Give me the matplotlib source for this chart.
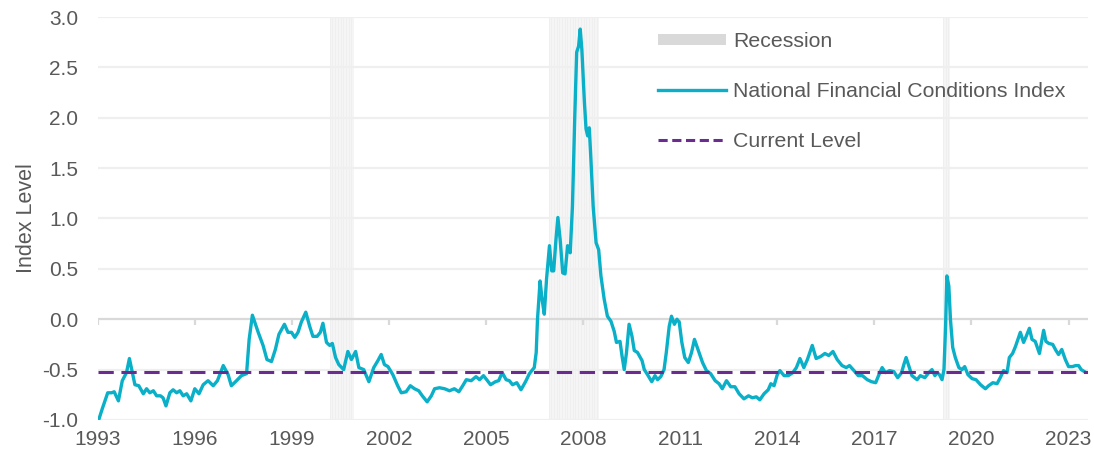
import matplotlib
matplotlib.use("Agg")
import matplotlib.pyplot as plt
import numpy as np
from matplotlib.patches import Patch
from matplotlib.lines import Line2D

# NFCI readings (decimal year, index level)
years = [1993.02, 1993.14, 1993.31, 1993.43, 1993.51, 1993.64, 1993.76, 1993.89, 1993.98, 1994.07,
         1994.15, 1994.27, 1994.41, 1994.51, 1994.61, 1994.72, 1994.82, 1994.94, 1995.02, 1995.11,
         1995.23, 1995.33, 1995.44, 1995.54, 1995.64, 1995.75, 1995.88, 1996.00, 1996.13, 1996.26,
         1996.41, 1996.57, 1996.70, 1996.88, 1997.03, 1997.13, 1997.29, 1997.44, 1997.60, 1997.68,
         1997.78, 1997.96, 1998.11, 1998.23, 1998.37, 1998.49, 1998.60, 1998.77, 1998.88, 1998.99,
         1999.09, 1999.19, 1999.29, 1999.43, 1999.55, 1999.65, 1999.78, 1999.88, 1999.96, 2000.07,
         2000.17, 2000.25, 2000.35, 2000.45, 2000.60, 2000.73, 2000.84, 2000.97, 2001.07, 2001.22,
         2001.38, 2001.53, 2001.66, 2001.76, 2001.86, 2001.97, 2002.12, 2002.27, 2002.38, 2002.53,
         2002.66, 2002.79, 2002.92, 2003.03, 2003.18, 2003.31, 2003.41, 2003.56, 2003.72, 2003.87,
         2004.02, 2004.16, 2004.28, 2004.39, 2004.54, 2004.69, 2004.80, 2004.92, 2005.02, 2005.14,
         2005.29, 2005.39, 2005.50, 2005.62, 2005.72, 2005.82, 2005.95, 2006.08, 2006.22, 2006.34,
         2006.49, 2006.55, 2006.59, 2006.67, 2006.73, 2006.80, 2006.87, 2006.96, 2007.03, 2007.09,
         2007.16, 2007.22, 2007.29, 2007.37, 2007.44, 2007.52, 2007.60, 2007.67, 2007.74, 2007.80,
         2007.86, 2007.91, 2007.96, 2008.04, 2008.09, 2008.14, 2008.19, 2008.24, 2008.31, 2008.40,
         2008.48, 2008.55, 2008.65, 2008.75, 2008.86, 2008.96, 2009.03, 2009.14, 2009.20, 2009.27,
         2009.34, 2009.42, 2009.51, 2009.58, 2009.68, 2009.82, 2009.89, 2009.99, 2010.12, 2010.22,
         2010.30, 2010.40, 2010.50, 2010.57, 2010.66, 2010.73, 2010.82, 2010.90, 2010.97, 2011.05,
         2011.14, 2011.25, 2011.35, 2011.44, 2011.56, 2011.69, 2011.81, 2011.94, 2012.08, 2012.20,
         2012.30, 2012.43, 2012.56, 2012.69, 2012.82, 2012.97, 2013.11, 2013.23, 2013.35, 2013.46,
         2013.59, 2013.72, 2013.80, 2013.90, 2014.00, 2014.08, 2014.21, 2014.34, 2014.48, 2014.59,
         2014.70, 2014.82, 2014.93, 2015.08, 2015.20, 2015.34, 2015.47, 2015.59, 2015.72, 2015.85,
         2016.00, 2016.13, 2016.23, 2016.37, 2016.50, 2016.63, 2016.78, 2016.91, 2017.04, 2017.14,
         2017.24, 2017.34, 2017.47, 2017.60, 2017.72, 2017.84, 2017.91, 2017.98, 2018.06, 2018.16,
         2018.32, 2018.42, 2018.56, 2018.68, 2018.78, 2018.87, 2018.94, 2019.01, 2019.09, 2019.15,
         2019.20, 2019.24, 2019.30, 2019.35, 2019.42, 2019.50, 2019.61, 2019.71, 2019.79, 2019.89,
         2020.02, 2020.14, 2020.28, 2020.43, 2020.53, 2020.66, 2020.79, 2020.89, 2020.99, 2021.10,
         2021.17, 2021.27, 2021.36, 2021.51, 2021.61, 2021.69, 2021.79, 2021.87, 2021.97, 2022.10,
         2022.18, 2022.23, 2022.30, 2022.39, 2022.51, 2022.61, 2022.69, 2022.79, 2022.90, 2023.00,
         2023.12, 2023.22, 2023.31, 2023.39, 2023.49]
nfci = [-1.01, -0.89, -0.73, -0.73, -0.72, -0.81, -0.61, -0.53, -0.39, -0.53,
        -0.65, -0.66, -0.74, -0.69, -0.73, -0.71, -0.76, -0.76, -0.78, -0.86,
        -0.73, -0.70, -0.73, -0.71, -0.76, -0.74, -0.81, -0.69, -0.74, -0.65,
        -0.61, -0.66, -0.61, -0.46, -0.55, -0.66, -0.61, -0.56, -0.54, -0.20,
        0.04, -0.13, -0.26, -0.40, -0.42, -0.30, -0.15, -0.05, -0.13, -0.13,
        -0.18, -0.13, -0.03, 0.07, -0.07, -0.17, -0.17, -0.13, -0.04, -0.23,
        -0.26, -0.24, -0.38, -0.45, -0.50, -0.32, -0.40, -0.32, -0.48, -0.50,
        -0.62, -0.48, -0.41, -0.35, -0.45, -0.47, -0.55, -0.66, -0.73, -0.72,
        -0.66, -0.69, -0.71, -0.76, -0.82, -0.76, -0.69, -0.68, -0.69, -0.71,
        -0.69, -0.72, -0.66, -0.60, -0.61, -0.57, -0.60, -0.56, -0.60, -0.65,
        -0.62, -0.61, -0.53, -0.60, -0.61, -0.65, -0.63, -0.70, -0.62, -0.54,
        -0.48, -0.33, 0.00, 0.38, 0.20, 0.05, 0.40, 0.73, 0.48, 0.48,
        0.79, 1.01, 0.79, 0.46, 0.45, 0.73, 0.66, 1.12, 1.99, 2.65,
        2.71, 2.88, 2.68, 2.15, 1.89, 1.82, 1.90, 1.59, 1.12, 0.76,
        0.69, 0.43, 0.20, 0.03, -0.02, -0.12, -0.23, -0.22, -0.36, -0.50,
        -0.33, -0.05, -0.17, -0.31, -0.33, -0.41, -0.50, -0.55, -0.62, -0.56,
        -0.60, -0.57, -0.50, -0.33, -0.07, 0.03, -0.05, 0.00, -0.03, -0.23,
        -0.38, -0.43, -0.33, -0.20, -0.31, -0.43, -0.51, -0.54, -0.61, -0.64,
        -0.69, -0.61, -0.67, -0.67, -0.74, -0.79, -0.76, -0.78, -0.77, -0.80,
        -0.74, -0.70, -0.64, -0.66, -0.55, -0.51, -0.56, -0.56, -0.53, -0.48,
        -0.39, -0.48, -0.40, -0.26, -0.39, -0.37, -0.34, -0.36, -0.32, -0.40,
        -0.46, -0.48, -0.46, -0.51, -0.56, -0.56, -0.60, -0.62, -0.63, -0.55,
        -0.48, -0.53, -0.51, -0.52, -0.58, -0.53, -0.45, -0.38, -0.46, -0.56,
        -0.60, -0.56, -0.58, -0.53, -0.50, -0.56, -0.53, -0.55, -0.60, -0.50,
        -0.07, 0.43, 0.33, 0.00, -0.28, -0.38, -0.48, -0.50, -0.47, -0.55,
        -0.59, -0.60, -0.65, -0.69, -0.66, -0.63, -0.64, -0.58, -0.51, -0.53,
        -0.38, -0.34, -0.27, -0.13, -0.23, -0.17, -0.09, -0.20, -0.22, -0.34,
        -0.20, -0.11, -0.22, -0.24, -0.25, -0.31, -0.35, -0.30, -0.40, -0.47,
        -0.47, -0.46, -0.46, -0.50, -0.52]

current_level = -0.52

# recession bands as shown on the chart
rec_start = [2000.17, 2006.93, 2019.12]
rec_end = [2000.91, 2008.50, 2019.33]

xtick_years = [1993, 1996, 1999, 2002, 2005, 2008, 2011, 2014, 2017, 2020, 2023]
ytick_vals = [-1.0, -0.5, 0.0, 0.5, 1.0, 1.5, 2.0, 2.5, 3.0]

plt.rcParams['font.family'] = ['Liberation Sans', 'DejaVu Sans']
plt.rcParams['axes.unicode_minus'] = False

text_col = '#595959'
line_col = '#0AAFC8'
dash_col = '#6A2C8E'

fig = plt.figure(figsize=(10.94, 4.57), dpi=100)
ax = fig.add_axes([0.0893, 0.081, 0.9052, 0.8818])

# recessions: pale band made of monthly strips
for s, e in zip(rec_start, rec_end):
    ax.axvspan(s, e, color='#f5f5f5', lw=0, zorder=0)
    ax.vlines(np.arange(s, e, 1 / 12), -1.0, 3.0, color='#ededed', lw=0.5, zorder=0)

# gridlines
for v in ytick_vals:
    if v == 0:
        ax.axhline(v, color='#d9d9d9', lw=1.6, zorder=1)
    else:
        ax.axhline(v, color='#efefef', lw=1.6, zorder=1)
# little ticks hanging off the zero line
ax.vlines(xtick_years, -0.06, 0, color='#d9d9d9', lw=1.6, zorder=1)

ax.plot(years, nfci, color=line_col, lw=2.4, zorder=3, solid_joinstyle='round')
ax.axhline(current_level, color=dash_col, lw=2.2, dashes=(5, 2.5), zorder=4)

ax.set_xlim(1993, 2023.6)
ax.set_ylim(-1.0, 3.0)
ax.set_xticks(xtick_years)
ax.set_xticklabels([str(y) for y in xtick_years])
ax.set_yticks(ytick_vals)
ax.set_yticklabels(['%.1f' % v for v in ytick_vals])
ax.tick_params(axis='both', length=0, labelsize=15, colors=text_col)
ax.tick_params(axis='x', pad=7)
ax.tick_params(axis='y', pad=14)
for sp in ax.spines.values():
    sp.set_visible(False)

ax.set_ylabel('Index Level', fontsize=15.5, color=text_col, labelpad=4)

handles = [Patch(facecolor='#d9d9d9', edgecolor='none'),
           Line2D([], [], color=line_col, lw=2.4),
           Line2D([], [], color=dash_col, lw=2.2, dashes=(3, 1.5))]
labels = ['Recession', 'National Financial Conditions Index', 'Current Level']
leg = fig.legend(handles, labels, loc='upper left', bbox_to_anchor=(658 / 1094, 1 - 32 / 457),
                 frameon=False, fontsize=15.3, handlelength=3.2, handleheight=0.45,
                 handletextpad=0.35, labelspacing=1.45, borderpad=0, borderaxespad=0)
for t in leg.get_texts():
    t.set_color(text_col)

fig.savefig('out.png', dpi=100)
